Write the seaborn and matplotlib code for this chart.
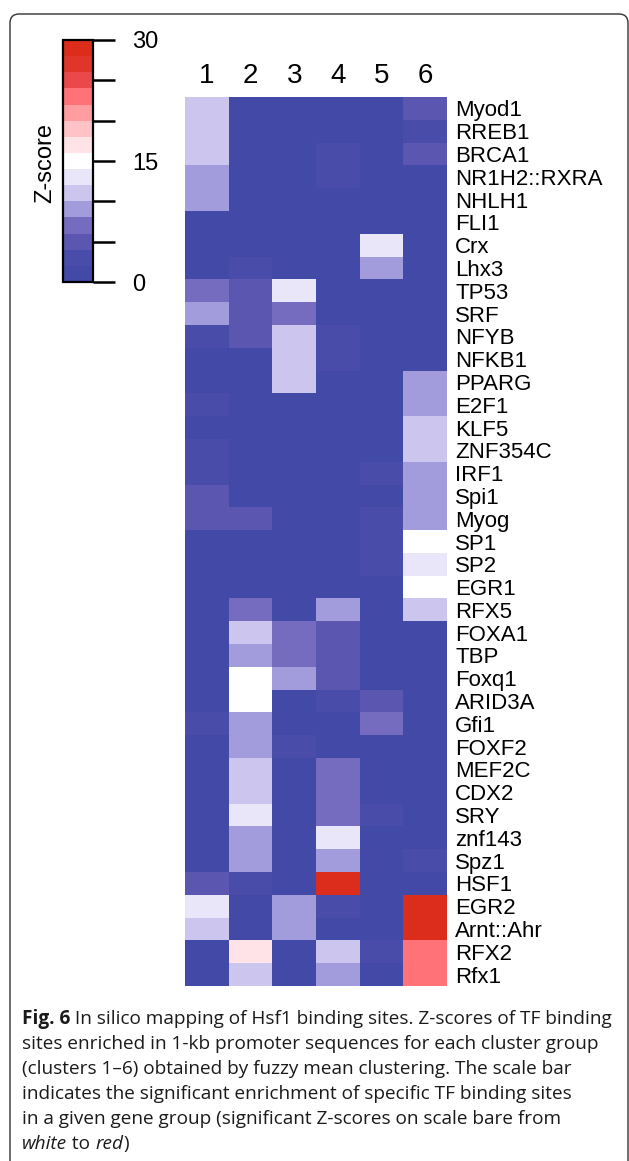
import matplotlib
matplotlib.use("Agg")
import pandas as pd
import matplotlib.pyplot as plt
import seaborn as sns
from matplotlib.colors import ListedColormap
from matplotlib.patches import FancyBboxPatch

# ===== DATA =====
tf_names = ["Myod1", "RREB1", "BRCA1", "NR1H2::RXRA", "NHLH1", "FLI1", "Crx", "Lhx3",
            "TP53", "SRF", "NFYB", "NFKB1", "PPARG", "E2F1", "KLF5", "ZNF354C", "IRF1",
            "Spi1", "Myog", "SP1", "SP2", "EGR1", "RFX5", "FOXA1", "TBP", "Foxq1",
            "ARID3A", "Gfi1", "FOXF2", "MEF2C", "CDX2", "SRY", "znf143", "Spz1", "HSF1",
            "EGR2", "Arnt::Ahr", "RFX2", "Rfx1"]
clusters = ["1", "2", "3", "4", "5", "6"]

# Z-scores per cluster
cluster1 = [11, 11, 11, 9, 9, 1, 1, 1, 7, 9, 3, 1, 1, 3, 1, 3, 3, 5, 5, 1,
            1, 1, 1, 1, 1, 1, 1, 3, 1, 1, 1, 1, 1, 1, 5, 13, 11, 1, 1]
cluster2 = [1, 1, 1, 1, 1, 1, 1, 3, 5, 5, 5, 1, 1, 1, 1, 1, 1, 1, 5, 1,
            1, 1, 7, 11, 9, 15, 15, 9, 9, 11, 11, 13, 9, 9, 3, 1, 1, 17, 11]
cluster3 = [1, 1, 1, 1, 1, 1, 1, 1, 13, 7, 11, 11, 11, 1, 1, 1, 1, 1, 1, 1,
            1, 1, 1, 7, 7, 9, 1, 1, 3, 1, 1, 1, 1, 1, 1, 9, 9, 1, 1]
cluster4 = [1, 1, 3, 3, 1, 1, 1, 1, 1, 1, 3, 3, 1, 1, 1, 1, 1, 1, 1, 1,
            1, 1, 9, 5, 5, 5, 3, 1, 1, 7, 7, 7, 13, 9, 29, 3, 1, 11, 9]
cluster5 = [1, 1, 1, 1, 1, 1, 13, 9, 1, 1, 1, 1, 1, 1, 1, 1, 3, 1, 3, 3,
            3, 1, 1, 1, 1, 1, 5, 7, 1, 1, 1, 3, 1, 1, 1, 1, 1, 3, 1]
cluster6 = [5, 3, 5, 1, 1, 1, 1, 1, 1, 1, 1, 1, 9, 9, 11, 11, 9, 9, 9, 15,
            13, 15, 11, 1, 1, 1, 1, 1, 1, 1, 1, 1, 1, 3, 1, 29, 29, 23, 23]

zscore_ticks = [0, 5, 10, 15, 20, 25, 30]
zscore_ticklabels = ["0", "", "", "15", "", "", "30"]

# 15 steps of 2 from blue through white to red
zscale_colors = ["#4249A7", "#4A4CAA", "#5B56B0", "#756BBF", "#A39CDC", "#CCC5EE",
                 "#EAE6F9", "#FFFFFF", "#FFE3E7", "#FFC2C7", "#FF9DA1", "#FF7378",
                 "#E9494A", "#E0352B", "#DC2C1C"]

caption_lines = [
    [("Fig. 6", "bold", "normal"), (" In silico mapping of Hsf1 binding sites. Z-scores of TF binding", "normal", "normal")],
    [("sites enriched in 1-kb promoter sequences for each cluster group", "normal", "normal")],
    [("(clusters 1\u20136) obtained by fuzzy mean clustering. The scale bar", "normal", "normal")],
    [("indicates the significant enrichment of specific TF binding sites", "normal", "normal")],
    [("in a given gene group (significant Z-scores on scale bare from", "normal", "normal")],
    [("white", "normal", "italic"), (" to ", "normal", "normal"), ("red", "normal", "italic"), (")", "normal", "normal")],
]

df = pd.DataFrame({"1": cluster1, "2": cluster2, "3": cluster3,
                   "4": cluster4, "5": cluster5, "6": cluster6}, index=tf_names)

# ===== PLOT =====
sns.set_theme(style="white")
plt.rcParams["font.family"] = ["Liberation Sans", "DejaVu Sans"]

W, H = 629, 1161
fig = plt.figure(figsize=(W / 100, H / 100), dpi=100)
ax = fig.add_axes([185 / W, 1 - 986 / H, 262 / W, 889 / H])
cax = fig.add_axes([63 / W, 1 - 282 / H, 30 / W, 242 / H])

sns.heatmap(df, ax=ax, cmap=ListedColormap(zscale_colors), vmin=0, vmax=30,
            cbar_ax=cax, cbar_kws={"ticks": zscore_ticks},
            xticklabels=clusters, yticklabels=tf_names)

# column headers on top, TF names on the right
ax.xaxis.tick_top()
ax.set_xticklabels(clusters, rotation=0, fontsize=20, color="black")
ax.tick_params(axis="x", length=0, pad=6)
ax.yaxis.tick_right()
ax.set_yticklabels(tf_names, rotation=0, fontsize=16, color="black")
ax.tick_params(axis="y", length=0, pad=6)
ax.set_xlabel("")
ax.set_ylabel("")

# colour scale
cbar = ax.collections[0].colorbar
cbar.outline.set_linewidth(1.6)
cbar.outline.set_edgecolor("black")
cax.set_yticklabels(zscore_ticklabels)
cax.tick_params(axis="y", length=16, width=1.8, pad=12, labelsize=17,
                colors="black", right=True, left=False)
fig.text(45 / W, 1 - 163 / H, "Z-score", rotation=90, ha="center", va="center",
         fontsize=17, color="black")

# rounded frame of the figure panel
frame = FancyBboxPatch((0.10, -0.5), 6.18, 11.47 + 0.5,
                       boxstyle="round,pad=0,rounding_size=0.09",
                       transform=fig.dpi_scale_trans, fill=False,
                       edgecolor="#333333", linewidth=1.0)
fig.add_artist(frame)

# caption: size chosen so the first line spans the panel width
renderer = fig.canvas.get_renderer()


def draw_line(parts, y, size):
    x = 22
    drawn = []
    for text, weight, style in parts:
        t = fig.text(x / W, 1 - y / H, text, fontsize=size, fontweight=weight,
                     fontstyle=style, family="Open Sans", color="#1a1a1a",
                     ha="left", va="center")
        x += t.get_window_extent(renderer).width
        drawn.append(t)
    return drawn, x - 22


probe, width = draw_line(caption_lines[0], 1030, 11)
for t in probe:
    t.remove()
cap_size = 11 * 590 / width

line_y = [1019, 1044, 1069, 1094, 1119, 1144]
for parts, y in zip(caption_lines, line_y):
    draw_line(parts, y, cap_size)

fig.savefig("out.png", dpi=100)
